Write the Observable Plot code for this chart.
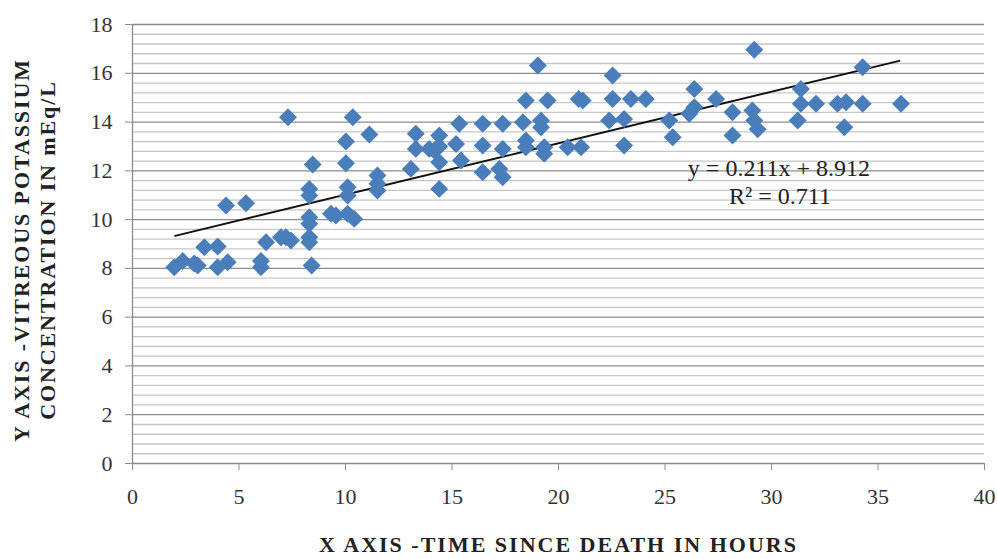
<!DOCTYPE html>
<html>
<head>
<meta charset="utf-8">
<script src="https://cdn.jsdelivr.net/npm/d3@7"></script>
<script src="https://cdn.jsdelivr.net/npm/@observablehq/plot@0.6"></script>
<style>
  html, body { margin: 0; padding: 0; background: #fff; }
  #chart svg { display: block; }
</style>
</head>
<body>
<div id="chart"></div>
<script>
// Time since death (hours)
const hours = [
  1.96, 2.36, 2.9, 3.06, 3.37, 4.0, 4.0, 4.47, 4.39, 5.33,
  6.03, 6.03, 6.27, 6.97, 7.2, 7.44, 7.3, 8.3, 8.3, 8.3,
  8.3, 8.3, 8.3, 8.41, 8.46, 9.32, 9.55, 10.1, 10.1, 10.1,
  10.41, 10.02, 10.02, 10.34, 11.12, 11.5, 11.5, 11.5, 13.07, 13.3,
  13.3, 13.93, 14.17, 14.4, 14.4, 14.4, 14.4, 15.19, 15.34, 15.42,
  16.44, 16.44, 16.44, 17.38, 17.38, 17.22, 17.38, 18.33, 18.47, 18.47,
  18.47, 19.03, 19.18, 19.18, 19.49, 19.33, 19.33, 20.43, 21.06, 21.14,
  20.95, 22.54, 22.54, 23.4, 24.1, 22.38, 23.08, 23.08, 25.2, 25.36,
  26.38, 26.38, 26.14, 27.4, 28.17, 28.17, 29.19, 29.1, 29.19, 29.35,
  31.38, 31.38, 31.23, 32.09, 33.1, 33.5, 33.42, 34.28, 34.28, 36.08
];
// Vitreous potassium concentration (mEq/L)
const potassium = [
  8.05, 8.3, 8.2, 8.12, 8.87, 8.9, 8.05, 8.25, 10.58, 10.67,
  8.3, 8.05, 9.07, 9.28, 9.28, 9.14, 14.2, 11.26, 10.99, 10.1,
  9.83, 9.28, 9.07, 8.12, 12.26, 10.24, 10.17, 11.33, 10.99, 10.24,
  10.03, 13.2, 12.31, 14.2, 13.49, 11.81, 11.47, 11.19, 12.08, 13.52,
  12.9, 12.9, 12.83, 13.45, 13.0, 12.35, 11.26, 13.1, 13.93, 12.42,
  13.93, 13.04, 11.94, 13.93, 12.9, 12.08, 11.74, 13.99, 14.88, 13.24,
  12.97, 16.32, 14.06, 13.79, 14.88, 12.97, 12.7, 12.97, 12.97, 14.88,
  14.95, 15.91, 14.95, 14.95, 14.95, 14.06, 14.13, 13.04, 14.06, 13.38,
  15.36, 14.61, 14.34, 14.95, 14.4, 13.45, 16.96, 14.47, 14.06, 13.7,
  15.36, 14.75, 14.06, 14.75, 14.75, 14.81, 13.79, 16.25, 14.75, 14.75
];
// Linear trendline as reported on the chart
const trendSlope = 0.211;
const trendIntercept = 8.912;
const trendRange = [2, 36];
const equationText = "y = 0.211x + 8.912";
const r2Text = "R² = 0.711";

// Axes
const xTicks = [0, 5, 10, 15, 20, 25, 30, 35, 40];
const yTicks = [0, 2, 4, 6, 8, 10, 12, 14, 16, 18];
const minorStep = 0.4;
const xTitle = "X AXIS -TIME SINCE DEATH IN HOURS";
const yTitle = "Y AXIS -VITREOUS POTASSIUM\nCONCENTRATION IN mEq/L";

const points = hours.map((h, i) => ({x: h, y: potassium[i]}));
const trend = trendRange.map(x => ({x, y: trendSlope * x + trendIntercept}));
const minorGrid = d3.range(0, 18 + 1e-9, minorStep)
  .map(v => Math.round(v * 10) / 10)
  .filter(v => Math.abs(v / 2 - Math.round(v / 2)) > 1e-6);

const chart = Plot.plot({
  width: 997,
  height: 559,
  marginLeft: 132,
  marginRight: 13,
  marginTop: 24,
  marginBottom: 96,
  x: {domain: [0, 40]},
  y: {domain: [0, 18]},
  style: {fontFamily: "'Liberation Serif', serif", fontSize: "22px", color: "#333", background: "#fff", overflow: "visible"},
  marks: [
    Plot.ruleY(minorGrid, {stroke: "#c6c6c6", strokeWidth: 1.3}),
    Plot.ruleY(yTicks, {stroke: "#8c8c8c", strokeWidth: 1.3}),
    Plot.ruleX([0], {stroke: "#8c8c8c", strokeWidth: 1.3}),
    Plot.axisY({ticks: yTicks, tickSize: 7, tickPadding: 13, stroke: "#8c8c8c", label: null, fill: "#333"}),
    Plot.axisX({ticks: xTicks, tickSize: 7, tickPadding: 18, stroke: "#8c8c8c", label: null, fill: "#333"}),
    Plot.line(trend, {x: "x", y: "y", stroke: "#111", strokeWidth: 2}),
    Plot.dot(points, {x: "x", y: "y", symbol: "diamond2", r: 8.1, fill: "#4a7ebb", stroke: "none"}),
    Plot.text([equationText], {x: 30.35, y: 12.1, text: d => d, fontSize: 24, fill: "#222", textAnchor: "middle"}),
    Plot.text([r2Text], {x: 30.4, y: 10.95, text: d => d, fontSize: 24, fill: "#222", textAnchor: "middle"}),
    Plot.text([xTitle], {frameAnchor: "bottom", dy: 88, text: d => d, fontSize: 22, fontWeight: "bold", fill: "#222", textAnchor: "middle"}),
    Plot.text([yTitle], {frameAnchor: "left", dx: -99, dy: 6, rotate: -90, text: d => d, fontSize: 22, fontWeight: "bold", fill: "#222", textAnchor: "middle", lineHeight: 1.2})
  ]
});
// widen the bold axis titles to match the wider original typeface
d3.select(chart).selectAll("text").each(function () {
  const t = this.textContent;
  if (t === xTitle) this.style.letterSpacing = "2px";
});
d3.select(chart).selectAll("tspan").each(function () {
  const t = this.textContent;
  if (t === "Y AXIS -VITREOUS POTASSIUM" || t === "CONCENTRATION IN mEq/L") this.style.letterSpacing = "1.9px";
});
document.getElementById("chart").append(chart);
</script>
</body>
</html>
